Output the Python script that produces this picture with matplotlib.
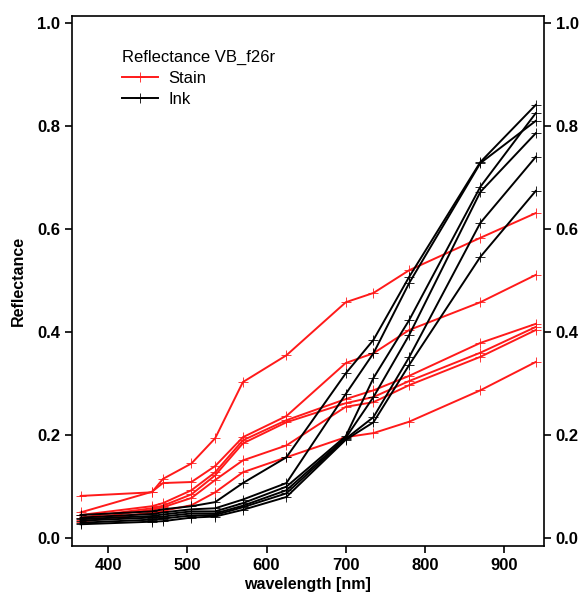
import matplotlib
matplotlib.use("Agg")
import matplotlib.pyplot as plt

# comprimentos de onda das bandas (nm)
wavelength = [365, 455, 469, 505, 535, 570, 625, 700, 735, 780, 870, 940]

# manchas (Stain)
stain_a = [0.082, 0.089, 0.115, 0.145, 0.194, 0.303, 0.355, 0.458, 0.476, 0.520, 0.583, 0.631]
stain_b = [0.050, 0.090, 0.107, 0.109, 0.140, 0.196, 0.237, 0.340, 0.359, 0.404, 0.458, 0.511]
stain_c = [0.045, 0.062, 0.068, 0.093, 0.128, 0.190, 0.229, 0.270, 0.287, 0.315, 0.379, 0.416]
stain_d = [0.040, 0.058, 0.063, 0.085, 0.122, 0.184, 0.225, 0.262, 0.274, 0.305, 0.360, 0.410]
stain_e = [0.036, 0.055, 0.060, 0.078, 0.113, 0.151, 0.180, 0.255, 0.264, 0.297, 0.352, 0.404]
stain_f = [0.032, 0.050, 0.053, 0.064, 0.089, 0.128, 0.157, 0.196, 0.204, 0.226, 0.287, 0.342]

# tinta (Ink)
ink_a = [0.045, 0.052, 0.056, 0.062, 0.070, 0.107, 0.157, 0.320, 0.385, 0.507, 0.730, 0.841]
ink_b = [0.040, 0.047, 0.050, 0.056, 0.058, 0.075, 0.107, 0.280, 0.359, 0.495, 0.728, 0.810]
ink_c = [0.037, 0.043, 0.046, 0.052, 0.052, 0.068, 0.100, 0.198, 0.311, 0.423, 0.682, 0.825]
ink_d = [0.034, 0.040, 0.042, 0.048, 0.048, 0.063, 0.093, 0.195, 0.274, 0.394, 0.672, 0.786]
ink_e = [0.030, 0.036, 0.038, 0.044, 0.045, 0.060, 0.087, 0.193, 0.235, 0.351, 0.612, 0.740]
ink_f = [0.027, 0.032, 0.033, 0.040, 0.042, 0.055, 0.080, 0.191, 0.225, 0.336, 0.546, 0.674]

stains = [stain_a, stain_b, stain_c, stain_d, stain_e, stain_f]
inks = [ink_a, ink_b, ink_c, ink_d, ink_e, ink_f]

plt.rcParams['font.family'] = ['Liberation Sans', 'DejaVu Sans']

fig = plt.figure(figsize=(5.8, 5.93), dpi=100)
ax = fig.add_axes([0.124, 0.079, 0.814, 0.894])

estilo = dict(lw=1.4, marker='+', ms=7, mew=0.6)
for i, s in enumerate(stains):
    ax.plot(wavelength, s, color='#ff1a1a', label='Stain' if i == 0 else None, zorder=2, **estilo)
for i, k in enumerate(inks):
    ax.plot(wavelength, k, color='black', label='Ink' if i == 0 else None, zorder=3, **estilo)

ax.set_xlim(354, 950.5)
ax.set_ylim(-0.0155, 1.0136)
ax.set_xticks([400, 500, 600, 700, 800, 900])
ax.set_yticks([0.0, 0.2, 0.4, 0.6, 0.8, 1.0])

ax.tick_params(axis='both', direction='out', length=5, width=1.2, labelsize=12)
ax.tick_params(axis='y', right=True, labelright=True)
for lab in ax.get_xticklabels() + ax.get_yticklabels():
    lab.set_fontweight('bold')
for t in ax.yaxis.get_major_ticks():
    t.label2.set_fontweight('bold')
for sp in ax.spines.values():
    sp.set_linewidth(1.2)

ax.set_xlabel('wavelength [nm]', fontweight='bold', fontsize=11.5, labelpad=3)
ax.set_ylabel('Reflectance', fontweight='bold', fontsize=11.5, labelpad=8)

leg = ax.legend(loc='upper left', bbox_to_anchor=(0.088, 0.952), frameon=False,
                title='Reflectance VB_f26r', fontsize=12, title_fontsize=12,
                numpoints=1, handlelength=2.2, handletextpad=0.6,
                borderpad=0, labelspacing=0.35, alignment='left')

fig.savefig('out.png', dpi=100)
